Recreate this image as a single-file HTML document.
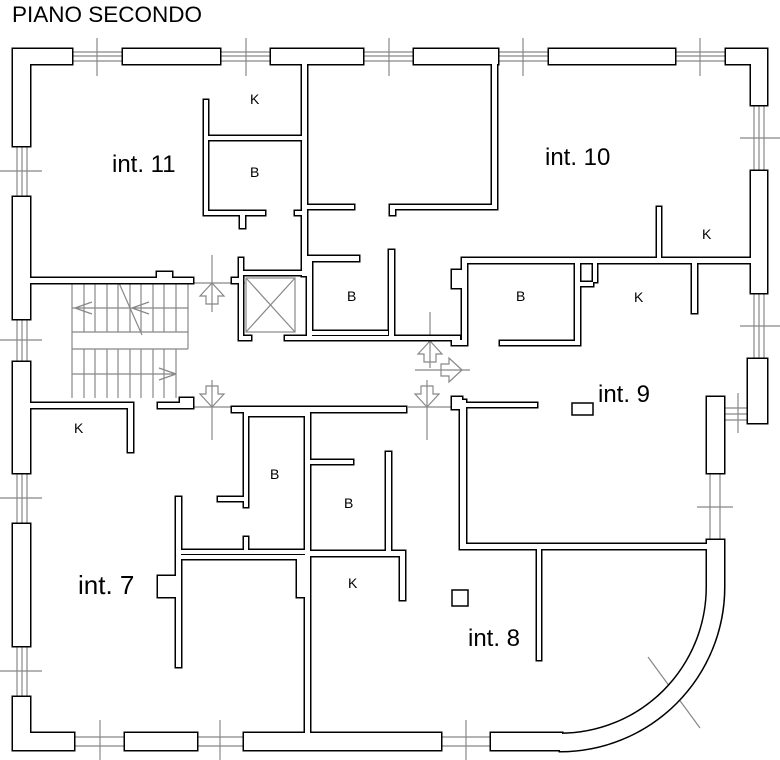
<!DOCTYPE html>
<html><head><meta charset="utf-8"><style>
html,body{margin:0;padding:0;background:#fff;}
svg{display:block;}
text{font-family:"Liberation Sans",sans-serif;fill:#000;}
</style></head><body>
<svg width="780" height="760" viewBox="0 0 780 760" xmlns="http://www.w3.org/2000/svg">
<defs>
<g id="w">
 <rect x="13" y="49" width="59" height="15"/><rect x="13" y="49" width="17" height="97"/>
 <rect x="123" y="49" width="97" height="15"/><rect x="271" y="49" width="92" height="15"/>
 <rect x="414" y="49" width="84" height="15"/><rect x="549" y="49" width="126" height="15"/>
 <rect x="726" y="49" width="41" height="15"/><rect x="751" y="49" width="16" height="56"/>
 <rect x="751" y="171" width="16" height="122"/><rect x="748" y="359" width="19" height="64"/>
 <rect x="707" y="397" width="17" height="76"/>
 <rect x="13" y="197" width="17" height="122"/><rect x="13" y="362" width="17" height="111"/>
 <rect x="13" y="524" width="17" height="122"/><rect x="13" y="697" width="17" height="53"/><rect x="13" y="733" width="61" height="17"/>
 <rect x="125" y="733" width="72" height="17"/><rect x="244" y="733" width="197" height="17"/><rect x="491" y="733" width="71" height="17"/>
 <path d="M707,540L724,540L724,587A164,164 0 0 1 560,751L560,734A147,147 0 0 0 707,587Z"/>
 <rect x="30" y="278" width="163" height="5"/><rect x="157" y="272" width="15" height="6"/>
 <rect x="204" y="100" width="4" height="115"/><rect x="204" y="136" width="98" height="4"/>
 <rect x="302" y="64" width="5" height="212"/><rect x="204" y="211" width="61" height="4"/>
 <rect x="240" y="211" width="5" height="17"/><rect x="295" y="211" width="7" height="4"/>
 <rect x="239" y="258" width="4" height="82"/><rect x="239" y="271" width="68" height="4"/>
 <rect x="232" y="278" width="11" height="5"/>
 <rect x="239" y="336" width="12" height="4"/><rect x="285" y="336" width="175" height="4"/>
 <rect x="307" y="205" width="47" height="4"/><rect x="307" y="256" width="52" height="5"/>
 <rect x="307" y="261" width="5" height="75"/><rect x="312" y="331" width="76" height="4"/>
 <rect x="389" y="250" width="5" height="86"/><rect x="390" y="205" width="102" height="4"/>
 <rect x="390" y="205" width="5" height="10"/><rect x="492" y="64" width="5" height="145"/>
 <rect x="462" y="258" width="289" height="5"/><rect x="657" y="207" width="4" height="51"/>
 <rect x="462" y="258" width="5" height="87"/><rect x="452" y="270" width="10" height="18"/>
 <rect x="575" y="263" width="5" height="82"/><rect x="580" y="282" width="13" height="4"/><rect x="593" y="263" width="4" height="19"/>
 <rect x="500" y="341" width="75" height="4"/><rect x="692" y="263" width="5" height="50"/>
 <rect x="452" y="340" width="10" height="5"/>
 <rect x="460" y="400" width="6" height="148"/><rect x="452" y="397" width="10" height="12"/>
 <rect x="466" y="403" width="71" height="4"/><rect x="460" y="544" width="247" height="5"/>
 <rect x="537" y="548" width="4" height="112"/>
 <rect x="30" y="403" width="103" height="5"/><rect x="128" y="403" width="5" height="49"/>
 <rect x="158" y="403" width="35" height="5"/><rect x="180" y="398" width="13" height="5"/>
 <rect x="232" y="407" width="174" height="5"/><rect x="244" y="412" width="4" height="95"/>
 <rect x="218" y="497" width="26" height="4"/><rect x="248" y="412" width="57" height="4"/>
 <rect x="305" y="412" width="5" height="321"/><rect x="180" y="550" width="125" height="4"/>
 <rect x="244" y="537" width="4" height="13"/>
 <rect x="176" y="497" width="5" height="170"/><rect x="158" y="576" width="18" height="21"/>
 <rect x="181" y="555" width="116" height="4"/><rect x="297" y="555" width="8" height="42"/>
 <rect x="310" y="460" width="43" height="4"/><rect x="386" y="452" width="5" height="102"/>
 <rect x="310" y="551" width="90" height="5"/><rect x="400" y="551" width="5" height="49"/>
</g>
</defs>
<rect width="780" height="760" fill="#fff"/>
<text x="12" y="22" font-size="22.5">PIANO SECONDO</text>

<g stroke="#888" stroke-width="1.2" fill="none">
 <path d="M72,52H123M72,61H123M220,52H271M220,61H271M363,52H414M363,61H414M498,52H549M498,61H549M675,52H726M675,61H726"/>
 <path d="M97,38V76M246,38V76M389,38V76M523,38V76M700,38V76M68,56H760"/>
 <path d="M17,146V197M27,146V197M17,319V362M27,319V362M17,473V524M27,473V524M17,646V697M27,646V697"/>
 <path d="M0,171H42M0,340H42M0,498H42M0,671H42M22,140V700"/>
 <path d="M754,105V171M764,105V171M754,293V359M764,293V359M740,138H780M740,326H780M759,100V362"/>
 <path d="M724,408H748M724,414H748M724,420H748M738,393V433"/>
 <path d="M710,473V540M720,473V540M697,507H733"/>
 <path d="M74,737H125M74,746H125M197,737H244M197,746H244M441,737H491M441,746H491M100,720V760M220,720V760M466,720V760"/>
 <path d="M648,657L700,728M643,712L706,664"/>
 <path d="M72,283V398M84,283V332M95,283V332M107,283V332M118,283V332M130,283V332M141,283V332M153,283V332M164,283V332M176,283V332M188,283V349M72,332H188M72,349H188M84,349V398M95,349V398M107,349V398M118,349V398M130,349V398M141,349V398M153,349V398M164,349V398M176,349V398"/>
 <path d="M72,308H188M72,374H176M75,308L92,302M75,308L92,314M132,308L149,302M132,308L149,314M176,374L159,368M176,374L159,380M119,283L142,335"/>
 <path d="M212,255V312M193,283H245M212,380V440M193,407H232M430,312V368M427,380V440M415,370H470M408,407H460"/>
 <path d="M212,283L200,296H206V304H218V296H224Z"/>
 <path d="M212,407L200,394H206V386H218V394H224Z"/>
 <path d="M430,341L418,354H424V362H436V354H442Z"/>
 <path d="M462,370L449,358V364H441V376H449V382Z"/>
 <path d="M427,407L415,394H421V386H433V394H439Z"/>
</g>

<use href="#w" fill="#000" stroke="#000" stroke-width="3"/>
<use href="#w" fill="#fff" stroke="none"/>

<g fill="#fff" stroke="#000" stroke-width="1.5">
 <rect x="572" y="403" width="21" height="12"/>
 <rect x="452" y="590" width="16" height="16"/>
</g>
<g stroke="#888" stroke-width="1.2" fill="none">
 <rect x="246" y="278" width="49" height="54"/>
 <path d="M246,278L295,332M295,278L246,332"/>
</g>

<text x="112" y="172" font-size="24">int. 11</text>
<text x="545" y="165" font-size="24">int. 10</text>
<text x="598" y="402" font-size="24">int. 9</text>
<text x="78" y="594" font-size="26">int. 7</text>
<text x="468" y="646" font-size="24">int. 8</text>
<g font-size="14">
<text x="250" y="104">K</text><text x="250" y="177">B</text>
<text x="347" y="301">B</text><text x="516" y="301">B</text>
<text x="634" y="302">K</text><text x="702" y="239">K</text>
<text x="74" y="433">K</text><text x="270" y="479">B</text>
<text x="344" y="508">B</text><text x="348" y="588">K</text>
</g>
</svg>
</body></html>
